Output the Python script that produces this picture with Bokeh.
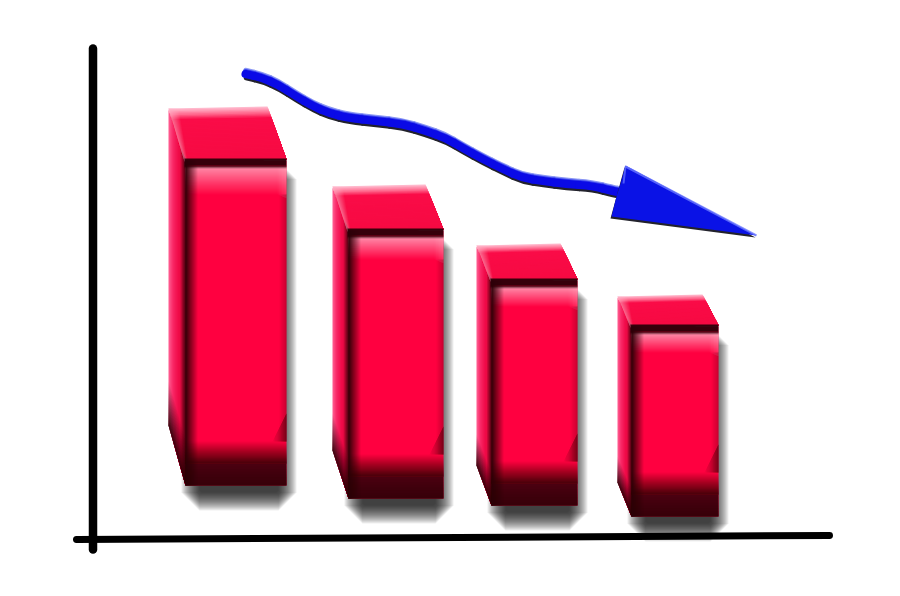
from bokeh.plotting import figure
from bokeh.models import Range1d
from bokeh.embed import file_html
from bokeh.resources import INLINE

# ---- data (in page-pixel units) ----
bar_labels = ["A", "B", "C", "D"]
bar_heights = [325, 268, 225, 190]          # front-face height of each bar
arrow_x = [245, 262, 278, 295, 312, 328, 348, 375, 402, 425, 445, 462, 482, 502, 522, 542, 565, 592, 612, 622]
arrow_y = [73, 77, 84, 95, 105, 112, 117, 120, 123, 130, 137, 147, 158, 168, 177, 180, 183, 185, 190, 192]
head_x = [625, 756, 611, 616, 620]
head_y = [165, 235, 216, 196, 183]

# ---- layout of the drawing ----
H = 596
front_left = [185, 348, 491, 631]
front_right = [286, 443, 577, 718]
front_bottom = [485, 498, 505, 516]
back_left = [168, 332, 476, 617]
back_right = [267, 425, 560, 702]
back_top_drop = [54, 46, 37, 32]
side_bottom = [425, 450, 465, 482]
RED = "#ff0040"
DARK = "#2c0008"
PINK = "#ffb8cc"


def Y(v):
    return H - v


def hex2(c):
    return [int(c[i:i + 2], 16) for i in (1, 3, 5)]


def mix(a, b, t):
    x, y = hex2(a), hex2(b)
    return "#%02x%02x%02x" % tuple(round(p + (q - p) * t) for p, q in zip(x, y))


def pt(p, q, t):
    return (p[0] + (q[0] - p[0]) * t, p[1] + (q[1] - p[1]) * t)


class Layer:
    def __init__(self):
        self.xs, self.ys, self.c, self.a = [], [], [], []

    def poly(self, pts, color, alpha=1.0):
        self.xs.append([q[0] for q in pts])
        self.ys.append([Y(q[1]) for q in pts])
        self.c.append(color)
        self.a.append(alpha)

    def span(self, quad, direction, t0, t1, color, alpha=1.0):
        a, b, c, d = quad  # TL TR BR BL
        if direction == "v":
            pts = [pt(a, d, t0), pt(b, c, t0), pt(b, c, t1), pt(a, d, t1)]
        else:
            pts = [pt(a, b, t0), pt(a, b, t1), pt(d, c, t1), pt(d, c, t0)]
        self.poly(pts, color, alpha)

    def ramp(self, quad, direction, stops, n=20):
        """Opaque colour ramp, painted as nested polygons so no seams show."""
        for i in range(n):
            t = i / n
            for (t0, c0), (t1, c1) in zip(stops, stops[1:]):
                if t <= t1:
                    col = mix(c0, c1, (t - t0) / (t1 - t0))
                    break
            self.span(quad, direction, t, 1.0, col)

    def fade(self, quad, direction, a0, a1, color, n=12):
        """Alpha ramp across a quad, built from nested low-alpha polygons."""
        rising = a1 >= a0
        lo, hi = (a0, a1) if rising else (a1, a0)
        prev = lo
        if lo > 0:
            self.span(quad, direction, 0, 1, color, lo)
        for i in range(1, n + 1):
            target = lo + (hi - lo) * i / n
            step = 1 - (1 - target) / (1 - prev)
            prev = target
            f = (i - 1) / n
            if rising:
                self.span(quad, direction, f, 1, color, step)
            else:
                self.span(quad, direction, 0, 1 - f, color, step)

    def draw(self, p):
        p.patches(self.xs, self.ys, fill_color=self.c, fill_alpha=self.a, line_color=None)


def rect(x0, x1, y0, y1):
    return [(x0, y0), (x1, y0), (x1, y1), (x0, y1)]


p = figure(width=884, height=580, output_backend="svg", toolbar_location=None,
           x_range=Range1d(0, 884), y_range=Range1d(16, 596), min_border=0,
           background_fill_color="white", border_fill_color="white")
p.axis.visible = False
p.grid.visible = False
p.outline_line_color = None

shadow, faces, over = Layer(), Layer(), Layer()
for i in range(len(bar_heights)):
    x0, x1, bot = front_left[i], front_right[i], front_bottom[i]
    top = bot - bar_heights[i]
    bl, br = back_left[i], back_right[i]
    by = top - back_top_drop[i]

    # soft shadow: nested chamfered rectangles
    sx0, sx1, sy0, sy1 = x0 + 5, x1 + 1, top + 10, bot + 16
    for k in range(9, -10, -1):
        c = max(k + 9, 2)
        q = [(sx0 - k + c, sy0 - k), (sx1 + k - c, sy0 - k), (sx1 + k, sy0 - k + c), (sx1 + k, sy1 + k - c),
             (sx1 + k - c, sy1 + k), (sx0 - k + c, sy1 + k), (sx0 - k, sy1 + k - c), (sx0 - k, sy0 - k + c)]
        shadow.poly(q, "#000000", 0.066)

    # side face
    side = [(bl, by + 3), (x0, top), (x0, bot), (bl, side_bottom[i])]
    faces.ramp(side, "h", [(0, "#ff5c90"), (0.22, "#f92a68"), (0.55, "#f00a48"), (1, "#d80a3c")], 17)
    over.fade([pt(side[0], side[1], 0.7), side[1], side[2], pt(side[3], side[2], 0.7)], "h", 0, 0.75, DARK, 6)
    over.fade([pt(side[0], side[3], 0.86), pt(side[1], side[2], 0.86), side[2], side[3]], "v", 0, 0.9, DARK, 16)

    # top face
    tf = [(bl, by + 2), (br, by), (x1, top - 1), (x0 - 1, top + 1)]
    faces.ramp(tf, "v", [(0, "#ffb8cc"), (0.1, "#ff6c90"), (0.2, "#fa0c48"), (1, "#f60a42")], 40)
    over.fade([(bl, by + 2), (bl + 10, by + 2), (x0 + 2, top + 1), (x0 - 1, top + 1)], "h", 0.55, 0, PINK, 8)

    # front face shading
    pink_h = max(20, round(bar_heights[i] * 0.085))
    over.fade(rect(x0, x1, top + 6, top + 6 + pink_h), "v", 0.8, 0, PINK, pink_h)
    over.fade([(x1 - 9, top + 6), (x1, top + 6), (x1, top + 10 + pink_h), (x1 - 9, top + 6 + pink_h)], "h", 0, 0.15, "#ffffff", 6)
    over.fade(rect(x1 - 7, x1, top + 6 + pink_h, bot - 44), "h", 0, 0.22, DARK, 5)
    over.fade(rect(x0, x1, bot - 44, bot - 22), "v", 0, 0.84, DARK, 22)
    over.fade(rect(x0, x1, bot - 22, bot), "v", 0.84, 0.94, DARK, 8)
    over.fade([(x1 - 14, bot - 44), (x1, bot - 72), (x1, bot - 44), (x1 - 14, bot - 44)], "h", 0, 0.45, DARK, 10)
    over.fade(rect(x0, x0 + 12, top, bot), "h", 0.95, 0, DARK, 12)
    over.fade(rect(x0 - 1, x1, top - 2, top + 5), "v", 0.95, 0.95, DARK, 1)
    over.fade(rect(x0 - 1, x1, top + 5, top + 8), "v", 0.85, 0, DARK, 3)

shadow.draw(p)

# axes of the sketch
p.line([92.5, 92.5], [Y(48), Y(549)], line_color="black", line_width=8.5, line_cap="round")
p.line([76, 829], [Y(539), Y(535)], line_color="black", line_width=7, line_cap="round")

faces.draw(p)
p.vbar(x=[(a + b) / 2 for a, b in zip(front_left, front_right)],
       width=[b - a for a, b in zip(front_left, front_right)],
       bottom=[Y(b) for b in front_bottom],
       top=[Y(b) + h for b, h in zip(front_bottom, bar_heights)],
       fill_color=RED, line_color=None)
over.draw(p)


# arrow: smooth quadratic pieces with control points at the read positions
def smooth(dx, dy, **kw):
    xs = [v + dx for v in arrow_x]
    ys = [Y(v) + dy for v in arrow_y]
    mx = [(a + b) / 2 for a, b in zip(xs, xs[1:])]
    my = [(a + b) / 2 for a, b in zip(ys, ys[1:])]
    p.line([xs[0], mx[0]], [ys[0], my[0]], line_cap="round", **kw)
    p.quadratic(mx[:-1], my[:-1], mx[1:], my[1:], xs[1:-1], ys[1:-1], line_cap="round", **kw)
    p.line([mx[-1], xs[-1]], [my[-1], ys[-1]], line_cap="round", **kw)


hy = [Y(v) for v in head_y]
smooth(0.5, -4.6, line_color="#22222c", line_width=4.5)
smooth(0, 3.8, line_color="#8a96f4", line_width=4)
smooth(0, 2, line_color="#3a44ee", line_width=5)
smooth(0, -0.5, line_color="#0a0ae6", line_width=8)
p.patch([x - 1 for x in head_x[:3]], [v - 2 for v in hy[:3]], fill_color="#22222c", line_color=None)
p.patch(head_x, hy, fill_color="#0a12e6", line_color=None)
p.line([head_x[4] + 3, head_x[0]], [hy[4], hy[0] - 1], line_color="#6a78ff", line_width=2, line_alpha=0.7)
p.line(head_x[:2], [hy[0] - 1, hy[1]], line_color="#6a78ff", line_width=2, line_alpha=0.8)

open("out.html", "w").write(file_html(p, INLINE))
